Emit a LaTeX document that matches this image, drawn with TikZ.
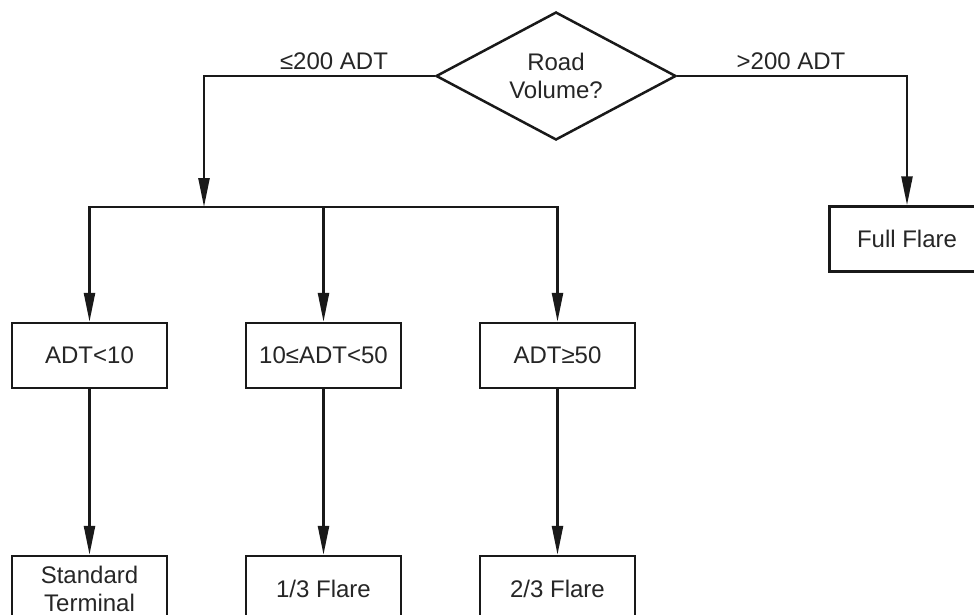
\documentclass[tikz,border=0pt]{standalone}
\usepackage{fontspec}
\setmainfont{Liberation Sans}
\usetikzlibrary{arrows.meta,shapes.geometric}
\begin{document}
\begin{tikzpicture}[x=1pt,y=-1pt,
  every node/.style={text=black!85, font=\fontsize{24}{28}\selectfont, align=center},
  box/.style={draw=black!90, line width=2.5pt, rectangle, minimum width=155pt, minimum height=65pt, inner sep=0pt},
  decision/.style={draw=black!90, line width=2.5pt, diamond, shape aspect=1.875, minimum width=240pt, minimum height=128pt, inner sep=0pt},
  conn/.style={draw=black!90, line width=2.5pt, -{Triangle[length=29pt,width=11pt]}},
  lbl/.style={inner sep=0pt}
]
\useasboundingbox (0,0) rectangle (974,615);
\clip (0,0) rectangle (974,615);
\fill[white] (0,0) rectangle (974,615);

\node[decision] (dec) at (556,76) {Road\\Volume?};
\node[box] (ff) at (907,239) {Full Flare};
\node[box] (n1) at (89.5,355.5) {ADT<10};
\node[box] (n2) at (323.5,355.5) {10≤ADT<50};
\node[box] (n3) at (557.5,355.5) {ADT≥50};
\node[box] (b1) at (89.5,588.5) {\fontsize{24}{27}\selectfont Standard\\Terminal};
\node[box] (b2) at (323.5,588.5) {1/3 Flare};
\node[box] (b3) at (557.5,588.5) {2/3 Flare};

\node[lbl] (ll) at (334,61) {≤200 ADT};
\node[lbl] (rl) at (791,61) {>200 ADT};

\coordinate (bj) at (204,207);

\draw[conn] (dec.west) -| (bj);
\draw[conn] (bj) -| (n1.north);
\draw[conn] (bj) -| (n3.north);
\draw[conn] (n2.north |- bj) -- (n2.north);
\draw[conn] (dec.east) -| (ff.north);
\draw[conn] (n1.south) -- (b1.north);
\draw[conn] (n2.south) -- (b2.north);
\draw[conn] (n3.south) -- (b3.north);
\end{tikzpicture}
\end{document}
